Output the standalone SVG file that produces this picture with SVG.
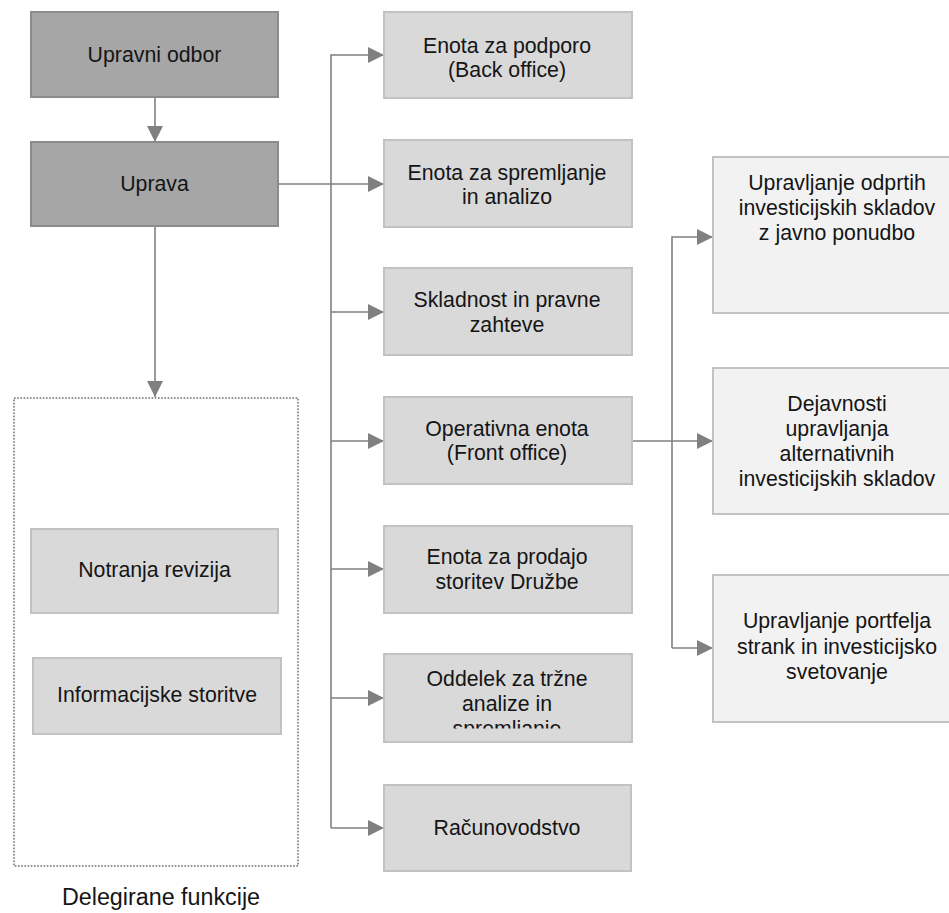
<svg xmlns="http://www.w3.org/2000/svg" width="949" height="913" viewBox="0 0 949 913">
<defs>
<style>
.t{font-family:"Liberation Sans",Arial,sans-serif;font-size:21.3px;fill:#151515;text-anchor:middle}
.dark{fill:#a6a6a6;stroke:#8c8c8c;stroke-width:2}
.mid{fill:#d9d9d9;stroke:#c2c2c2;stroke-width:2}
.light{fill:#f2f2f2;stroke:#c2c2c2;stroke-width:2}
.c{fill:none;stroke:#808080;stroke-width:1.6}
</style>
<marker id="ah" markerUnits="userSpaceOnUse" markerWidth="16" markerHeight="16" refX="16" refY="8" orient="auto">
<path d="M0,0 L16,8 L0,16 z" fill="#808080"/>
</marker>
<clipPath id="clipOdd"><rect x="384" y="654" width="248" height="74.5"/></clipPath>
</defs>
<rect width="949" height="913" fill="#fff"/>

<g id="connectors">
<path class="c" d="M155,97 V142" marker-end="url(#ah)"/>
<path class="c" d="M155,226 V397" marker-end="url(#ah)"/>
<path class="c" d="M278,184 H384" marker-end="url(#ah)"/>
<path class="c" d="M331,828 V55 H384" marker-end="url(#ah)"/>
<path class="c" d="M331,312 H384" marker-end="url(#ah)"/>
<path class="c" d="M331,441 H384" marker-end="url(#ah)"/>
<path class="c" d="M331,569 H384" marker-end="url(#ah)"/>
<path class="c" d="M331,698 H384" marker-end="url(#ah)"/>
<path class="c" d="M331,828 H384" marker-end="url(#ah)"/>
<path class="c" d="M632,441 H713" marker-end="url(#ah)"/>
<path class="c" d="M672,648 V237 H713" marker-end="url(#ah)"/>
<path class="c" d="M672,648 H713" marker-end="url(#ah)"/>
</g>

<g id="delegated">
<rect x="14" y="398" width="284" height="468" fill="none" stroke="#8f8f8f" stroke-width="2" stroke-dasharray="1.6 1.6"/>
<text class="t" x="161" y="905" style="font-size:23.3px">Delegirane funkcije</text>
</g>

<g id="upravni-odbor">
<rect class="dark" x="31" y="12" width="247" height="85"/>
<text class="t" x="154.5" y="61.5">Upravni odbor</text>
</g>
<g id="uprava">
<rect class="dark" x="31" y="142" width="247" height="84"/>
<text class="t" x="154.5" y="191">Uprava</text>
</g>

<g id="notranja-revizija">
<rect class="mid" x="31" y="529" width="247" height="84"/>
<text class="t" x="154.5" y="577">Notranja revizija</text>
</g>
<g id="informacijske-storitve">
<rect class="mid" x="33" y="658" width="248" height="76"/>
<text class="t" x="157" y="702">Informacijske storitve</text>
</g>

<g id="back-office">
<rect class="mid" x="384" y="12" width="248" height="86"/>
<text class="t" x="507" y="52.5">Enota za podporo</text>
<text class="t" x="507" y="77">(Back office)</text>
</g>
<g id="spremljanje">
<rect class="mid" x="384" y="140" width="248" height="87"/>
<text class="t" x="507" y="180">Enota za spremljanje</text>
<text class="t" x="507" y="204">in analizo</text>
</g>
<g id="skladnost">
<rect class="mid" x="384" y="268" width="248" height="87"/>
<text class="t" x="507" y="307">Skladnost in pravne</text>
<text class="t" x="507" y="331.5">zahteve</text>
</g>
<g id="front-office">
<rect class="mid" x="384" y="397" width="248" height="87"/>
<text class="t" x="507" y="435.5">Operativna enota</text>
<text class="t" x="507" y="460">(Front office)</text>
</g>
<g id="prodaja">
<rect class="mid" x="384" y="526" width="248" height="87"/>
<text class="t" x="507" y="564">Enota za prodajo</text>
<text class="t" x="507" y="588.5">storitev Družbe</text>
</g>
<g id="trzne-analize">
<rect class="mid" x="384" y="654" width="248" height="88"/>
<g clip-path="url(#clipOdd)">
<text class="t" x="507" y="686">Oddelek za tržne</text>
<text class="t" x="507" y="711">analize in</text>
<text class="t" x="507" y="736">spremljanje</text>
</g>
</g>
<g id="racunovodstvo">
<rect class="mid" x="384" y="785" width="247" height="86"/>
<text class="t" x="507" y="835">Računovodstvo</text>
</g>

<g id="odprti-skladi">
<rect class="light" x="713" y="157" width="250" height="156"/>
<text class="t" x="837" y="190">Upravljanje odprtih</text>
<text class="t" x="837" y="215">investicijskih skladov</text>
<text class="t" x="837" y="240">z javno ponudbo</text>
</g>
<g id="alternativni-skladi">
<rect class="light" x="713" y="368" width="250" height="146"/>
<text class="t" x="837" y="411">Dejavnosti</text>
<text class="t" x="837" y="436">upravljanja</text>
<text class="t" x="837" y="461">alternativnih</text>
<text class="t" x="837" y="486">investicijskih skladov</text>
</g>
<g id="portfelji">
<rect class="light" x="713" y="575" width="250" height="147"/>
<text class="t" x="837" y="628">Upravljanje portfelja</text>
<text class="t" x="837" y="653.5">strank in investicijsko</text>
<text class="t" x="837" y="679">svetovanje</text>
</g>
</svg>
